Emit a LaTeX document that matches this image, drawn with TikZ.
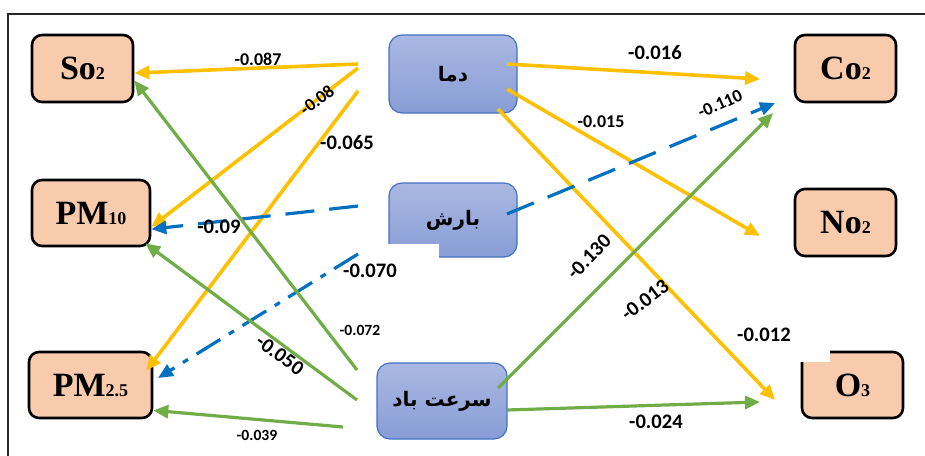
\documentclass[tikz,border=0pt]{standalone}
\usepackage{fontspec}
\setmainfont{Liberation Serif}
\newfontfamily\numfont{Carlito}
\newfontfamily\farsifont[Script=Arabic]{DejaVu Sans}
\TeXXeTstate=1
\usetikzlibrary{arrows.meta}
\definecolor{peach}{RGB}{248,203,173}
\definecolor{gold}{RGB}{255,192,0}
\definecolor{leaf}{RGB}{112,173,71}
\definecolor{sea}{RGB}{0,112,192}
\definecolor{boxedge}{RGB}{68,114,196}
\definecolor{boxtop}{RGB}{170,184,226}
\definecolor{boxbot}{RGB}{136,157,214}
\newcommand{\smalldigits}[1]{{\fontsize{9}{9}\selectfont #1}}
\begin{document}
\begin{tikzpicture}[
            x=0.5pt, y=-0.5pt,
            pollutant/.style={draw=black, line width=1.3pt, fill=peach, rounded corners=5pt, inner sep=0pt, font=\bfseries\fontsize{17}{17}\selectfont},
            climate/.style={draw=boxedge, line width=0.6pt, top color=boxtop, bottom color=boxbot, rounded corners=6.5pt, inner sep=0pt, font=\farsifont\bfseries\fontsize{10}{12}\selectfont},
            coef/.style={inner sep=0pt, font=\numfont\bfseries\fontsize{10.3}{12}\selectfont},
            midcoef/.style={inner sep=0pt, font=\numfont\bfseries\fontsize{9}{11}\selectfont},
            smallcoef/.style={inner sep=0pt, font=\numfont\bfseries\fontsize{7.8}{9}\selectfont},
            tip/.style={-{Triangle[length=7.5pt,width=6.5pt]}},
            sunline/.style={tip, draw=gold, line width=1.8pt},
            rainline/.style={tip, draw=sea, line width=1.6pt, dash pattern=on 14.5pt off 7.5pt},
            raindot/.style={tip, draw=sea, line width=1.6pt, dash pattern=on 14pt off 5pt on 3pt off 5pt},
            windline/.style={tip, draw=leaf, line width=1.6pt}
            ]
            \clip (0,0) rectangle (925,455);
            \draw[line width=1.3pt, draw=black!85] (960,14) -- (8,14) -- (8,480);

            \node[pollutant, minimum width=50.5pt, minimum height=33.5pt] (so2node) at (82.5,68.5) {So\smalldigits{2}};
            \node[pollutant, minimum width=59pt, minimum height=33pt] (pmtennode) at (91,213) {PM\smalldigits{10}};
            \node[pollutant, minimum width=61.5pt, minimum height=33pt] (pmtwonode) at (90.5,385) {PM\smalldigits{2.5}};
            \node[pollutant, minimum width=50.5pt, minimum height=33.5pt] (co2node) at (845.5,68.5) {Co\smalldigits{2}};
            \node[pollutant, minimum width=50.5pt, minimum height=33.5pt] (no2node) at (845.5,222.5) {No\smalldigits{2}};
            \node[pollutant, minimum width=50.5pt, minimum height=33pt] (o3node) at (852.5,385) {O\smalldigits{3}};

            \node[climate, minimum width=64pt, minimum height=39pt] (tempnode) at (453,74) {\beginR دما\endR};
            \node[climate, minimum width=64pt, minimum height=37pt] (rainnode) at (453,220) {\beginR بارش\endR};
            \node[climate, minimum width=65pt, minimum height=38pt] (windnode) at (442,401) {\beginR سرعت باد\endR};

            \fill[white] (388,244) rectangle (439,260);
            \fill[white] (799,349) rectangle (830,362);

            \coordinate (tS) at (358,64);
            \coordinate (tP) at (358,68);
            \coordinate (tQ) at (358,91);
            \coordinate (tC) at (507,64);
            \coordinate (tN) at (507,89);
            \coordinate (tO) at (498,109);
            \coordinate (rC) at (507,214);
            \coordinate (rP) at (358,206);
            \coordinate (rQ) at (358,254);
            \coordinate (wS) at (357,370);
            \coordinate (wP) at (357,400);
            \coordinate (wQ) at (343,427);
            \coordinate (wC) at (498,388);
            \coordinate (wO) at (507,410);

            \coordinate (co2sun) at (760,79);
            \coordinate (no2sun) at (760,236);
            \coordinate (o3sun) at (775,400);
            \coordinate (co2rain) at (775,103);
            \coordinate (co2wind) at (773,113);
            \coordinate (o3wind) at (760,402);
            \coordinate (pmtworain) at (158,378);
            \coordinate (pmtwosun) at ([shift={(-7,20)}]pmtwonode.north east);
            \coordinate (pmtenwind) at ([shift={(-6,-4)}]pmtennode.south east);

            \node[midcoef] (l087) at (258,59) {-0.087};
            \node[smallcoef] (l072) at (360,330) {-0.072};
            \node[smallcoef] (l039) at (257,435) {-0.039};

            \foreach \a/\b in {tS/so2node.-5, tP/pmtennode.-13, tQ/pmtwosun, tC/co2sun, tN/no2sun, tO/o3sun}{
                \draw[sunline] (\a) -- (\b);
            }
            \foreach \a/\b in {rC/co2rain, rP/pmtennode.-15}{
                \draw[rainline] (\a) -- (\b);
            }
            \draw[raindot] (rQ) -- (pmtworain);
            \foreach \a/\b in {wS/so2node.-13, wP/pmtenwind, wQ/pmtwonode.-22, wC/co2wind, wO/o3wind}{
                \draw[windline] (\a) -- (\b);
            }

            \node[midcoef, rotate=37] (l08) at (317,100) {-0.08};
            \node[coef] (l065) at (347,143) {-0.065};
            \node[coef] (l09) at (219,227) {-0.09};
            \node[coef] (l070) at (370,271) {-0.070};
            \node[coef, rotate=-36] (l050) at (280,355) {-0.050};
            \node[coef] (l016) at (655,53) {-0.016};
            \node[midcoef] (l015) at (601,122) {-0.015};
            \node[midcoef, rotate=24] (l110) at (720,104) {-0.110};
            \node[coef, rotate=46] (l130) at (589,257) {-0.130};
            \node[coef, rotate=37] (l013) at (645,300) {-0.013};
            \node[coef] (l012) at (764,335) {-0.012};
            \node[coef] (l024) at (656,422) {-0.024};
        \end{tikzpicture}
\end{document}
